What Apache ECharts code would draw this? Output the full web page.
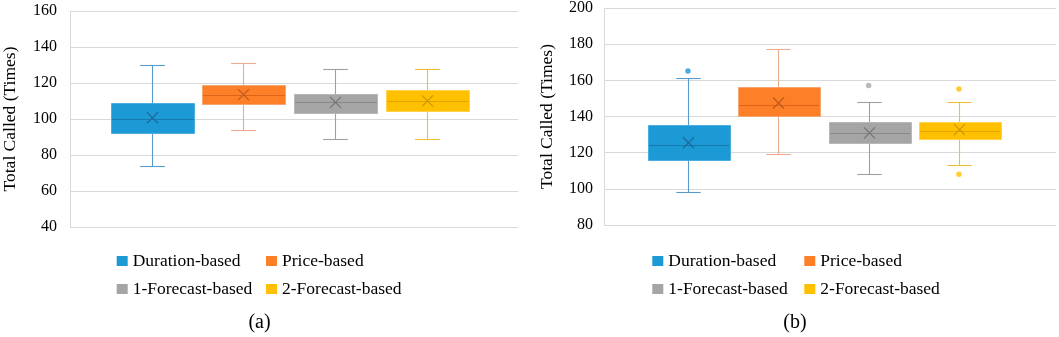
<!DOCTYPE html>
<html><head><meta charset="utf-8">
<script src="https://cdn.jsdelivr.net/npm/echarts@6/dist/echarts.min.js"></script>
<style>html,body{margin:0;padding:0;background:#fff}#c{width:1059px;height:337px}</style>
</head><body><div id="c"></div>
<script>
// ---- data ----
const categories = ['Duration-based', 'Price-based', '1-Forecast-based', '2-Forecast-based'];
const yTicksA = [40, 60, 80, 100, 120, 140, 160];
const yTicksB = [80, 100, 120, 140, 160, 180, 200];
const yAxisName = 'Total Called (Times)';
const panelLabels = ['(a)', '(b)'];

// panel (a)
const aMin  = [74, 94, 89, 89];
const aQ1   = [92, 108.3, 103.2, 104.3];
const aMed  = [100, 113.3, 109.3, 109.8];
const aQ3   = [109, 119, 114, 116];
const aMax  = [130, 131, 128, 128];
const aMean = [100.7, 113.5, 109.2, 110.1];
const aOutCat = [];
const aOutVal = [];

// panel (b)
const bMin  = [98, 119, 108, 113];
const bQ1   = [116, 140, 125, 127.2];
const bMed  = [124, 146, 131, 132];
const bQ3   = [135, 156, 137, 137];
const bMax  = [161, 177, 148, 148];
const bMean = [125.4, 147.3, 130.8, 132.6];
const bOutCat = [0, 2, 3, 3];
const bOutVal = [165, 157, 155, 108];

// ---- styles ----
const FONT = '"Liberation Serif", "Times New Roman", serif';
const palettes = [
  { fill: '#1b9ad6', edge: '#4aaee0', whisker: '#5a9bcd', median: '#1679ad', mean: '#24679a', out: '#1b9ad6' },
  { fill: '#fd7f27', edge: '#f4a574', whisker: '#eaae8e', median: '#dd6518', mean: '#bf5a22', out: '#fd7f27' },
  { fill: '#a5a5a5', edge: '#b8b8b8', whisker: '#a0a0a0', median: '#888888', mean: '#747474', out: '#a8a8a8' },
  { fill: '#ffc000', edge: '#ffd24d', whisker: '#eec035', median: '#e0a600', mean: '#c99600', out: '#ffc000' }
];
const BOX_FRAC = 0.905, CAP_FRAC = 0.27, MEAN_SIZE = 11;
const GRID_COLOR = '#d9d9d9';

function renderBox(pal) {
  return function (params, api) {
    const c = api.value(0);
    const P = k => api.coord([c, api.value(k)]);
    const pMin = P(1), pQ1 = P(2), pMed = P(3), pQ3 = P(4), pMax = P(5), pMean = P(6);
    const band = api.size([1, 0])[0];
    const bw = band * BOX_FRAC, cw = band * CAP_FRAC, xs = MEAN_SIZE / 2;
    const r = v => Math.round(v) + 0.5;
    const cx = r(pMed[0]);
    const ln = (x1, y1, x2, y2, color, w) => ({ type: 'line', shape: { x1, y1, x2, y2 }, style: { stroke: color, lineWidth: w || 1 } });
    const yQ3 = r(pQ3[1]), yQ1 = r(pQ1[1]);
    return {
      type: 'group', children: [
        ln(cx, r(pMax[1]), cx, r(pMin[1]), pal.whisker, 1.1),
        ln(cx - cw / 2, r(pMax[1]), cx + cw / 2, r(pMax[1]), pal.whisker, 1.1),
        ln(cx - cw / 2, r(pMin[1]), cx + cw / 2, r(pMin[1]), pal.whisker, 1.1),
        { type: 'rect', shape: { x: Math.round(cx - bw / 2) + 0.5, y: yQ3, width: Math.round(bw), height: yQ1 - yQ3 },
          style: { fill: pal.fill, stroke: pal.edge, lineWidth: 1 } },
        ln(Math.round(cx - bw / 2) + 1, r(pMed[1]), Math.round(cx + bw / 2), r(pMed[1]), pal.median),
        ln(cx - xs, pMean[1] - xs, cx + xs, pMean[1] + xs, pal.mean, 1.2),
        ln(cx - xs, pMean[1] + xs, cx + xs, pMean[1] - xs, pal.mean, 1.2)
      ]
    };
  };
}

const panels = [
  { ticks: yTicksA, min: aMin, q1: aQ1, med: aMed, q3: aQ3, max: aMax, mean: aMean, outCat: aOutCat, outVal: aOutVal,
    gridA: { left: 67, top: 11, width: 451, height: 216 }, boxLeft: 105.8, boxWidth: 366.7, nameGap: 51, labelMargin: 13,
    legendX: [116.7, 266], label: { x: 259.5, y: 323 } },
  { ticks: yTicksB, min: bMin, q1: bQ1, med: bMed, q3: bQ3, max: bMax, mean: bMean, outCat: bOutCat, outVal: bOutVal,
    gridA: { left: 604, top: 7.5, width: 452, height: 217.5 }, boxLeft: 642.8, boxWidth: 361.3, nameGap: 48, labelMargin: 11,
    legendX: [652.3, 804.3], label: { x: 795, y: 323 } }
];

const grid = [], xAxis = [], yAxis = [], series = [], legend = [], graphic = [];
panels.forEach((p, pi) => {
  const gDeco = grid.length, gBox = gDeco + 1;
  grid.push(Object.assign({ containLabel: false }, p.gridA));
  grid.push({ left: p.boxLeft, width: p.boxWidth, top: p.gridA.top, height: p.gridA.height });
  const tMin = p.ticks[0], tMax = p.ticks[p.ticks.length - 1], tInt = p.ticks[1] - p.ticks[0];
  xAxis.push({ gridIndex: gDeco, type: 'value', min: 0, max: 1, show: false });
  xAxis.push({ gridIndex: gBox, type: 'category', data: categories, show: false });
  yAxis.push({
    gridIndex: gDeco, type: 'value', min: tMin, max: tMax, interval: tInt,
    axisLine: { show: true, lineStyle: { color: GRID_COLOR, width: 1 } },
    axisTick: { show: false },
    axisLabel: { fontFamily: FONT, fontSize: 16, color: '#000', margin: p.labelMargin },
    splitLine: { show: true, lineStyle: { color: GRID_COLOR, width: 1 } },
    name: yAxisName, nameLocation: 'middle', nameGap: p.nameGap,
    nameTextStyle: { fontFamily: FONT, fontSize: 17.5, color: '#000' }
  });
  yAxis.push({ gridIndex: gBox, type: 'value', min: tMin, max: tMax, interval: tInt, show: false });

  categories.forEach((name, i) => {
    series.push({
      type: 'custom', name: name, xAxisIndex: gBox, yAxisIndex: gBox,
      itemStyle: { color: palettes[i].fill },
      encode: { x: 0, y: [1, 2, 3, 4, 5, 6] },
      data: [[i, p.min[i], p.q1[i], p.med[i], p.q3[i], p.max[i], p.mean[i]]],
      renderItem: renderBox(palettes[i]),
      silent: true, z: 3
    });
  });
  if (p.outCat.length) {
    series.push({
      type: 'scatter', name: 'outliers-' + pi, xAxisIndex: gBox, yAxisIndex: gBox,
      symbol: 'circle', symbolSize: 5.5, silent: true, z: 4,
      data: p.outCat.map((c, k) => ({ value: [c, p.outVal[k]], itemStyle: { color: palettes[c].out } }))
    });
  }
  [[0, 2], [1, 3]].forEach((idxs, col) => {
    legend.push({
      data: idxs.map(i => categories[i]), orient: 'vertical',
      left: p.legendX[col], top: 252, icon: 'rect', itemWidth: 11, itemHeight: 10, itemGap: 10,
      selectedMode: false, padding: 0,
      textStyle: { fontFamily: FONT, fontSize: 17.5, color: '#000', lineHeight: 18 }
    });
  });
  graphic.push({
    type: 'text', x: p.label.x, y: p.label.y,
    style: { text: panelLabels[pi], fontFamily: FONT, fontSize: 20, fill: '#000', align: 'center', verticalAlign: 'middle' }
  });
});

const chart = echarts.init(document.getElementById('c'), null, { renderer: 'canvas' });
chart.setOption({ animation: false, backgroundColor: '#fff', grid, xAxis, yAxis, series, legend, graphic });
</script>
</body></html>
